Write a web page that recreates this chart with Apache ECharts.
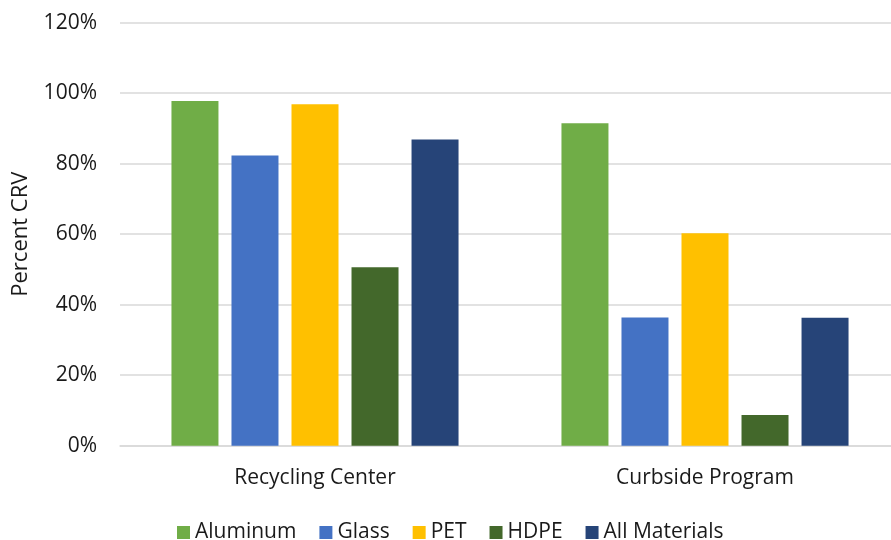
<!DOCTYPE html>
<html>
<head>
<meta charset="utf-8">
<script src="https://cdn.jsdelivr.net/npm/echarts@6/dist/echarts.min.js"></script>
<style>
  html, body { margin: 0; padding: 0; background: #fff; }
  #chart { width: 891px; height: 540px; }
</style>
</head>
<body>
<div id="chart"></div>
<script>
// Share of CRV containers returned, by collection channel
const categories = ['Recycling Center', 'Curbside Program'];
const aluminum = [97.8, 91.5];
const glass = [82.3, 36.4];
const pet = [96.9, 60.3];
const hdpe = [50.6, 8.7];
const allMaterials = [86.9, 36.3];

const seriesNames = ['Aluminum', 'Glass', 'PET', 'HDPE', 'All Materials'];
const seriesValues = [aluminum, glass, pet, hdpe, allMaterials];
const seriesColors = ['#70AD47', '#4472C4', '#FFC000', '#43682B', '#264478'];

const font = '"Open Sans", "DejaVu Sans", sans-serif';
const textColor = '#1a1a1a';

const chart = echarts.init(document.getElementById('chart'), null, { renderer: 'canvas' });

chart.setOption({
  backgroundColor: '#ffffff',
  animation: false,
  textStyle: { fontFamily: font, color: textColor },
  grid: { left: 120, top: 22.7, width: 780, height: 423, outerBoundsMode: 'none', containLabel: false },
  legend: {
    bottom: -8,
    left: 172,
    itemWidth: 13,
    itemHeight: 13,
    itemGap: 23,
    icon: 'rect',
    textStyle: { fontFamily: font, fontSize: 21, color: textColor },
    data: seriesNames
  },
  xAxis: {
    type: 'category',
    data: categories,
    axisTick: { show: false },
    axisLine: { lineStyle: { color: '#d9d9d9', width: 1.5 } },
    axisLabel: { fontFamily: font, fontSize: 21, color: textColor, margin: 22 }
  },
  yAxis: {
    type: 'value',
    min: 0,
    max: 120,
    interval: 20,
    name: 'Percent CRV',
    nameLocation: 'middle',
    nameGap: 88,
    nameTextStyle: { fontFamily: font, fontSize: 22, color: textColor },
    axisLine: { show: false },
    axisTick: { show: false },
    splitLine: { lineStyle: { color: '#d9d9d9', width: 1.5 } },
    axisLabel: { formatter: '{value}%', fontFamily: font, fontSize: 21, color: textColor, margin: 23 }
  },
  series: seriesNames.map((name, i) => ({
    name: name,
    type: 'bar',
    data: seriesValues[i],
    barWidth: 47,
    barGap: '27.7%',
    itemStyle: { color: seriesColors[i] }
  }))
});
</script>
</body>
</html>
